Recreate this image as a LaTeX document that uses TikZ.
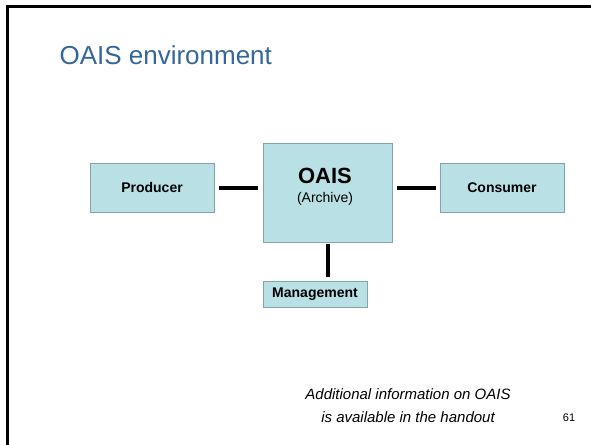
\documentclass[tikz,border=0pt]{standalone}
\usepackage{fontspec}
\setmainfont{Liberation Sans}
\definecolor{boxfill}{RGB}{185,224,228}
\definecolor{boxline}{RGB}{130,165,170}
\definecolor{titleblue}{RGB}{51,102,153}
\begin{document}
\begin{tikzpicture}[x=1pt,y=-1pt,
  ebox/.style={draw=boxline, fill=boxfill, line width=1pt, rectangle, inner sep=0pt, align=center},
  conn/.style={line width=4pt, black}]
\useasboundingbox (0,0) rectangle (591,444);
\draw[line width=2.5pt] (7.5,446) -- (7.5,6.3) -- (593,6.3);
\node[anchor=base west, text=titleblue, font=\fontsize{26}{30}\selectfont] (title) at (56,64) {OAIS environment};
\node[ebox, minimum width=124pt, minimum height=49pt, font=\bfseries\fontsize{14}{16}\selectfont] (prod) at (152,187.5) {Producer};
\node[ebox, minimum width=129pt, minimum height=99pt] (oais) at (327.5,192.5) {};
\node[font=\bfseries\fontsize{22}{24}\selectfont] (oaist) at (325,175.5) {OAIS};
\node[font=\fontsize{14}{16}\selectfont] (arch) at (325,198.5) {(Archive)};
\node[ebox, minimum width=124pt, minimum height=49pt, font=\bfseries\fontsize{14}{16}\selectfont] (cons) at (502,187.5) {Consumer};
\node[ebox, minimum width=104pt, minimum height=26pt, font=\bfseries\fontsize{14}{16}\selectfont] (mgmt) at (315,294) {Management};
\draw[conn, shorten <=4pt, shorten >=5pt] (prod.east) -- (oais.west |- prod.east);
\draw[conn, shorten <=4pt, shorten >=4pt] (oais.east |- cons.west) -- (cons.west);
\draw[conn, shorten <=1pt, shorten >=4pt] (oais.south) -- (oais.south |- mgmt.north);
\node[font=\itshape\fontsize{15}{23}\selectfont, align=center] (note) at (408,405.5) {Additional information on OAIS\\is available in the handout};
\node[font=\fontsize{11}{13}\selectfont] (page) at (569,418) {61};
\end{tikzpicture}
\end{document}
